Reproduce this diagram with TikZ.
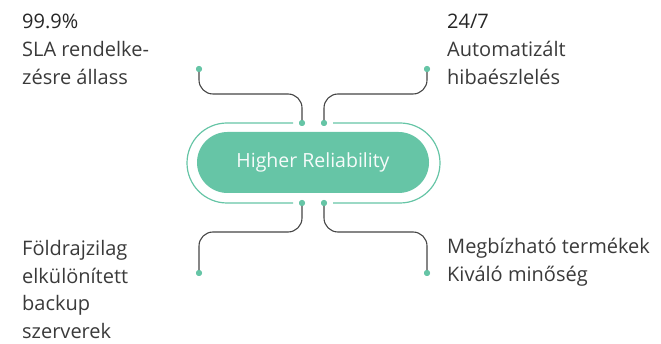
\documentclass[tikz,border=0pt]{standalone}
\usepackage{fontspec}
\setmainfont{Open Sans}
\definecolor{pill}{HTML}{66C5A6}
\definecolor{txt}{HTML}{3A3A3A}
\definecolor{wire}{HTML}{454545}
\tikzset{
  lbl/.style={anchor=base west, inner sep=0pt, text=txt, font=\fontsize{20}{22}\selectfont},
  wirepath/.style={draw=wire, line width=1.1pt, rounded corners=14pt},
  dotc/.style={circle, fill=pill, inner sep=0pt, minimum size=6pt},
  ring/.style={draw=pill, line width=1.2pt},
}
\begin{document}
\begin{tikzpicture}[x=1pt,y=-1pt]
\useasboundingbox (0,0) rectangle (661,344);
% inner pill
\node[fill=pill, rounded corners=30.5pt, minimum width=232pt, minimum height=61pt, inner sep=0pt,
  text=white!94!pill, font=\fontsize{19.5}{21}\selectfont] (hub) at (313,162.5) {Higher Reliability};
% outer ring, two halves
\draw[ring] (293,123) -- (227,123) arc[start angle=270, end angle=90, radius=40] -- (293,203);
\draw[ring] (333,123) -- (400,123) arc[start angle=-90, end angle=90, radius=40] -- (333,203);
% dots
\node[dotc] (tlin) at (302,123) {};
\node[dotc] (trin) at (324,123) {};
\node[dotc] (blin) at (302,203) {};
\node[dotc] (brin) at (324,203) {};
\node[dotc] (tlout) at (199,69) {};
\node[dotc] (trout) at (427,69) {};
\node[dotc] (blout) at (199,273) {};
\node[dotc] (brout) at (427,273) {};
% connectors
\draw[wirepath] (tlout.center) -- (199,94) -- (302,94) -- (tlin.center);
\draw[wirepath] (trout.center) -- (427,94) -- (324,94) -- (trin.center);
\draw[wirepath] (blout.center) -- (199,232) -- (302,232) -- (blin.center);
\draw[wirepath] (brout.center) -- (427,232) -- (324,232) -- (brin.center);
\node[dotc] at (tlin) {};\node[dotc] at (trin) {};\node[dotc] at (blin) {};\node[dotc] at (brin) {};
\node[dotc] at (tlout) {};\node[dotc] at (trout) {};\node[dotc] at (blout) {};\node[dotc] at (brout) {};
% labels
\node[lbl, text=black!85] (t1a) at (22,29) {99.9\%};
\node[lbl] (t1b) at (22,57) {SLA rendelke-};
\node[lbl] (t1c) at (22,85) {zésre állass};
\node[lbl, text=black!85] (t2a) at (447,29) {24/7};
\node[lbl] (t2b) at (447,57) {Automatizált};
\node[lbl] (t2c) at (447,85) {hibaészlelés};
\node[lbl] (t3a) at (22,256) {Földrajzilag};
\node[lbl] (t3b) at (22,283.5) {elkülönített};
\node[lbl] (t3c) at (22,311) {backup};
\node[lbl] (t3d) at (22,338.5) {szerverek};
\node[lbl] (t4a) at (447,254) {Megbízható termékek};
\node[lbl] (t4b) at (447,282) {Kiváló minőség};
\end{tikzpicture}
\end{document}
